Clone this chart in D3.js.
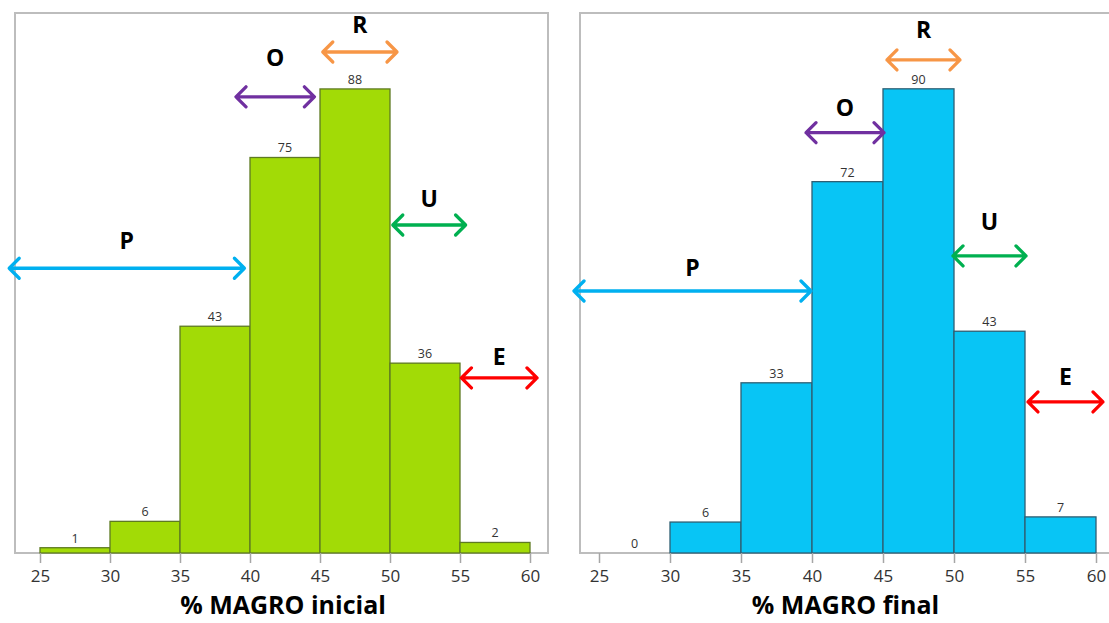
<!DOCTYPE html>
<html><head><meta charset="utf-8">
<script src="https://cdn.jsdelivr.net/npm/d3@7"></script>
<style>body{margin:0;background:#fff}svg{display:block}</style>
</head><body><svg id="c" width="1109" height="623"></svg>
<script>
// ---- data ----
const binStarts = [25, 30, 35, 40, 45, 50, 55];
const binWidth = 5;
const tickValues = [25, 30, 35, 40, 45, 50, 55, 60];
const countsInicial = [1, 6, 43, 75, 88, 36, 2];
const countsFinal = [0, 6, 33, 72, 90, 43, 7];
const titleInicial = "% MAGRO inicial";
const titleFinal = "% MAGRO final";
const annLabels = ["R", "O", "U", "P", "E"];
const annColors = ["#F79646", "#7030A0", "#00B050", "#00B0F0", "#FF0000"];
// annotation extents in data units: [x1, x2, arrowY, labelY]
const annInicial = [[45.2, 50.5, 95.0, 100.3], [39.0, 44.6, 86.5, 94.1], [50.2, 55.4, 62.2, 67.3], [22.8, 39.6, 54.0, 59.4], [55.1, 60.5, 33.2, 37.4]];
const annFinal = [[45.28, 50.42, 95.6, 101.6], [39.58, 45.07, 81.5, 86.5], [49.93, 55.07, 57.6, 64.4], [23.24, 39.93, 50.8, 55.5], [55.21, 60.49, 29.3, 34.3]];

const svg = d3.select("#c");
const font = "'Open Sans', 'Noto Sans', sans-serif";

function panel(cfg) {
  const g = svg.append("g");
  const x = d3.scaleLinear().domain([25, 60]).range(cfg.xr);
  const y = d3.scaleLinear().domain([0, cfg.ymax]).range([cfg.base, cfg.top]);
  // frame
  g.append("rect").attr("x", cfg.frame[0]).attr("y", cfg.top)
    .attr("width", cfg.frame[1] - cfg.frame[0]).attr("height", cfg.base - cfg.top)
    .attr("fill", "none").attr("stroke", "#bdbdbd").attr("stroke-width", 2);
  // bars
  const data = binStarts.map((s, i) => ({s, v: cfg.counts[i]}));
  g.selectAll("rect.bar").data(data.filter(d => d.v > 0)).join("rect").attr("class", "bar")
    .attr("x", d => x(d.s)).attr("width", d => x(d.s + binWidth) - x(d.s))
    .attr("y", d => y(d.v)).attr("height", d => y(0) - y(d.v))
    .attr("fill", cfg.fill).attr("stroke", cfg.stroke).attr("stroke-width", 1.3);
  g.selectAll("text.val").data(data).join("text").attr("class", "val")
    .attr("x", d => x(d.s + binWidth / 2)).attr("y", d => y(d.v) - 5)
    .attr("text-anchor", "middle").attr("font-family", font).attr("font-size", 12.5)
    .attr("fill", "#333").text(d => d.v);
  // axis
  const ax = g.append("g").attr("transform", `translate(0,${cfg.base})`)
    .call(d3.axisBottom(x).tickValues(tickValues).tickSize(10).tickPadding(7).tickSizeOuter(0));
  ax.select(".domain").remove();
  ax.selectAll(".tick line").attr("stroke", "#a6a6a6").attr("stroke-width", 1.5);
  ax.selectAll(".tick text").attr("font-family", font).attr("font-size", 17).attr("fill", "#333");
  g.append("text").attr("x", (x(25) + x(60)) / 2 - 2).attr("y", 614).attr("text-anchor", "middle")
    .attr("font-family", font).attr("font-weight", "bold").attr("font-size", 25)
    .attr("fill", "#000").text(cfg.title);
  // annotations
  cfg.ann.forEach((a, i) => {
    const x1 = x(a[0]), x2 = x(a[1]), yy = y(a[2]);
    const h = 10;
    const col = annColors[i];
    const path = `M${x1},${yy}L${x2},${yy}M${x1 + h},${yy - h}L${x1},${yy}L${x1 + h},${yy + h}M${x2 - h},${yy - h}L${x2},${yy}L${x2 - h},${yy + h}`;
    g.append("path").attr("d", path).attr("fill", "none").attr("stroke", col)
      .attr("stroke-width", 3.3).attr("stroke-linecap", "round").attr("stroke-linejoin", "round");
    g.append("text").attr("x", (x1 + x2) / 2).attr("y", y(a[3])).attr("text-anchor", "middle")
      .attr("dominant-baseline", "central").attr("font-family", font).attr("font-weight", "bold")
      .attr("font-size", 23).attr("fill", "#000").text(annLabels[i]);
  });
}

panel({xr: [40, 530], frame: [15, 548], top: 13, base: 553, ymax: 102.4,
  counts: countsInicial, fill: "#A2DB06", stroke: "#5E7A22", title: titleInicial, ann: annInicial});
panel({xr: [599, 1096], frame: [580, 1114], top: 13, base: 553, ymax: 104.7,
  counts: countsFinal, fill: "#08C5F5", stroke: "#2F5F73", title: titleFinal, ann: annFinal});
</script></body></html>
